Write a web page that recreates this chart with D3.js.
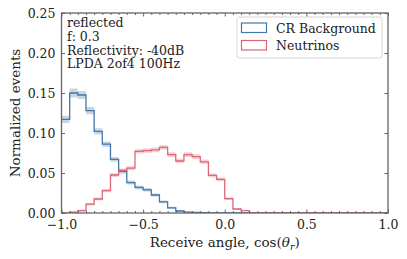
<!DOCTYPE html>
<html>
<head>
<meta charset="utf-8">
<script src="https://cdn.jsdelivr.net/npm/d3@7"></script>
<style>
  body { margin: 0; background: #fff; }
</style>
</head>
<body>
<div id="plot"></div>
<script>
// Histogram data, 40 bins of 0.05 between -1 and 1
let binStart = -1
let binWidth = 0.05
let crValues = [0.117, 0.150, 0.1475, 0.128, 0.102, 0.086, 0.067, 0.052, 0.038, 0.032,
  0.029, 0.0225, 0.014, 0.0065, 0.0025, 0.0012, 0.0008, 0.0005, 0, 0,
  0, 0, 0, 0, 0, 0, 0, 0, 0, 0, 0, 0, 0, 0, 0, 0, 0, 0, 0, 0]
let crErrors = [0.0045, 0.0055, 0.005, 0.0045, 0.004, 0.0035, 0.003, 0.003, 0.0025, 0.0025,
  0.0022, 0.002, 0.0017, 0.0012, 0.0008, 0.0006, 0.0005, 0.0004, 0, 0,
  0, 0, 0, 0, 0, 0, 0, 0, 0, 0, 0, 0, 0, 0, 0, 0, 0, 0, 0, 0]
let nuValues = [0, 0.001, 0.003, 0.011, 0.0175, 0.028, 0.0475, 0.053, 0.056, 0.077,
  0.078, 0.079, 0.082, 0.073, 0.065, 0.073, 0.0705, 0.064, 0.047, 0.042,
  0.018, 0.005, 0.003, 0, 0, 0, 0, 0, 0, 0, 0, 0, 0, 0, 0, 0, 0, 0, 0, 0]
let nuErrors = [0, 0.0005, 0.001, 0.0015, 0.0018, 0.002, 0.0025, 0.0025, 0.0025, 0.003,
  0.003, 0.003, 0.003, 0.003, 0.0028, 0.003, 0.003, 0.0028, 0.0025, 0.0024,
  0.0016, 0.0008, 0.0006, 0, 0, 0, 0, 0, 0, 0, 0, 0, 0, 0, 0, 0, 0, 0, 0, 0]

let seriesNames = ['CR Background', 'Neutrinos']
let seriesColors = ['#4477AA', '#DD6677']
let infoLines = ['reflected', 'f: 0.3', 'Reflectivity: -40dB', 'LPDA 2of4 100Hz']
let xTicks = [-1, -0.5, 0, 0.5, 1]
let yTicks = [0, 0.05, 0.10, 0.15, 0.20, 0.25]

// Plot constants
let W = 407, H = 259
let margin = {t: 13, r: 19, b: 46, l: 61.5}
let width = W - margin.l - margin.r
let height = H - margin.t - margin.b
let FONT = '"DejaVu Serif", serif'
let INK = '#222'

let svg = d3.select('#plot').append('svg')
  .attr('width', W)
  .attr('height', H)

let g = svg.append('g')
  .attr('transform', `translate(${margin.l},${margin.t})`)

let x = d3.scaleLinear().domain([-1, 1]).range([0, width])
let y = d3.scaleLinear().domain([0, 0.25]).range([height, 0])

// turn bin values into points for step curves
function toBins(values, errors) {
  let pts = values.map(function(v, i) {
    return {x: binStart + i * binWidth, v: v, e: errors[i]}
  })
  let last = pts[pts.length - 1]
  pts.push({x: last.x + binWidth, v: last.v, e: last.e})
  return pts
}

let stepLine = d3.line()
  .x(function(d) { return x(d.x) })
  .y(function(d) { return y(d.v) })
  .curve(d3.curveStepAfter)

let stepArea = d3.area()
  .x(function(d) { return x(d.x) })
  .y0(function(d) { return y(Math.max(0, d.v - d.e)) })
  .y1(function(d) { return y(d.v + d.e) })
  .curve(d3.curveStepAfter)

let series = [toBins(crValues, crErrors), toBins(nuValues, nuErrors)]

g.append('defs').append('clipPath').attr('id', 'clip')
  .append('rect').attr('width', width).attr('height', height)

let marks = g.append('g').attr('clip-path', 'url(#clip)')

series.forEach(function(pts, i) {
  marks.append('path')
    .attr('d', stepArea(pts))
    .style('fill', seriesColors[i])
    .style('fill-opacity', 0.3)
})
series.forEach(function(pts, i) {
  marks.append('path')
    .attr('d', stepLine(pts))
    .style('fill', 'none')
    .style('stroke', seriesColors[i])
    .style('stroke-width', 1.3)
})

// Axes with inward ticks
let minorX = d3.range(-1, 1.0001, 0.05).filter(function(v) {
  return !xTicks.some(function(t) { return Math.abs(t - v) < 1e-6 })
})

function tickStyle(sel) {
  sel.select('.domain').remove()
  sel.selectAll('line').style('stroke', '#555').style('stroke-width', 0.9)
  sel.selectAll('text')
    .style('font-size', '12.5px')
    .style('font-family', FONT)
    .style('fill', INK)
}

let xAxis = d3.axisBottom(x).tickValues(xTicks).tickSizeInner(-3.5).tickSizeOuter(0)
  .tickPadding(7).tickFormat(function(d) { return d3.format('.1f')(d).replace('-', '\u2212') })
g.append('g').attr('transform', `translate(0,${height})`).call(xAxis).call(tickStyle)
g.append('g').attr('transform', `translate(0,${height})`)
  .call(d3.axisBottom(x).tickValues(minorX).tickSizeInner(-2).tickSizeOuter(0).tickFormat(''))
  .call(tickStyle)
g.append('g').call(d3.axisTop(x).tickValues(xTicks).tickSizeInner(-3.5).tickSizeOuter(0).tickFormat(''))
  .call(tickStyle)
g.append('g').call(d3.axisTop(x).tickValues(minorX).tickSizeInner(-2).tickSizeOuter(0).tickFormat(''))
  .call(tickStyle)

let yAxis = d3.axisLeft(y).tickValues(yTicks).tickSizeInner(-3.5).tickSizeOuter(0)
  .tickPadding(6).tickFormat(d3.format('.2f'))
g.append('g').call(yAxis).call(tickStyle)
g.append('g').attr('transform', `translate(${width},0)`)
  .call(d3.axisRight(y).tickValues(yTicks).tickSizeInner(-3.5).tickSizeOuter(0).tickFormat(''))
  .call(tickStyle)

// Frame
g.append('rect')
  .attr('width', width)
  .attr('height', height)
  .style('fill', 'none')
  .style('stroke', '#666')
  .style('stroke-width', 1.3)

// Axis labels
let xLabel = svg.append('text')
  .attr('x', margin.l + width / 2)
  .attr('y', 247)
  .attr('text-anchor', 'middle')
  .style('font-family', FONT)
  .style('fill', INK)
  .style('font-size', '13.5px')
xLabel.append('tspan').text('Receive angle, cos(')
xLabel.append('tspan').style('font-style', 'italic').text('\u03b8')
xLabel.append('tspan').style('font-style', 'italic').style('font-size', '9.5px').attr('dy', 3).text('r')
xLabel.append('tspan').attr('dy', -3).text(')')

svg.append('text')
  .attr('transform', `translate(15,${margin.t + height / 2}) rotate(-90)`)
  .attr('text-anchor', 'middle')
  .attr('dy', '0.35em')
  .style('font-family', FONT)
  .style('fill', INK)
  .style('font-size', '13.5px')
  .text('Normalized events')

// Info text
g.append('g').selectAll('text')
  .data(infoLines)
  .enter().append('text')
  .attr('x', 5.5)
  .attr('y', function(d, i) { return 14 + i * 13.8 })
  .style('font-family', FONT)
  .style('fill', INK)
  .style('font-size', '12.5px')
  .text(function(d) { return d })

// Legend
let legend = g.append('g').attr('transform', `translate(${width - 151},4)`)
legend.append('rect')
  .attr('width', 145)
  .attr('height', 41)
  .attr('rx', 2.5)
  .style('fill', '#fff')
  .style('stroke', '#d0d0d0')
  .style('stroke-width', 0.9)
seriesNames.forEach(function(name, i) {
  legend.append('rect')
    .attr('x', 4.5)
    .attr('y', 6 + i * 17.5)
    .attr('width', 25)
    .attr('height', 9.5)
    .style('fill', 'none')
    .style('stroke', seriesColors[i])
    .style('stroke-width', 1.2)
  legend.append('text')
    .attr('x', 39)
    .attr('y', 15.5 + i * 17.5)
    .style('font-family', FONT)
    .style('fill', INK)
    .style('font-size', '12.5px')
    .text(name)
})
</script>
</body>
</html>
